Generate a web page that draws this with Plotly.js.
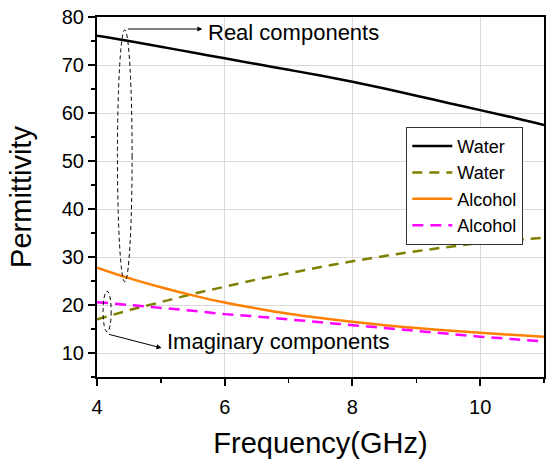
<!DOCTYPE html>
<html>
<head>
<meta charset="utf-8">
<script src="https://cdn.plot.ly/plotly-3.0.1.min.js"></script>
<style>
  html, body { margin: 0; padding: 0; background: #fff; }
  #chart { width: 549px; height: 459px; }
</style>
</head>
<body>
<div id="chart"></div>
<script>
// Frequency sweep (GHz)
const frequency = [4, 4.5, 5, 5.5, 6, 6.5, 7, 7.5, 8, 8.5, 9, 9.5, 10, 10.5, 11];

// Water permittivity: real and imaginary parts
const waterReal = [76.1, 75.0, 73.8, 72.6, 71.4, 70.2, 69.0, 67.8, 66.5, 65.1, 63.6, 62.1, 60.6, 59.1, 57.5];
const waterImag = [17.0, 18.9, 20.6, 22.3, 23.8, 25.3, 26.6, 27.9, 29.1, 30.2, 31.2, 32.1, 32.9, 33.5, 34.0];

// Alcohol permittivity: real and imaginary parts
const alcoholReal = [27.8, 25.6, 23.7, 22.0, 20.5, 19.3, 18.2, 17.3, 16.5, 15.8, 15.2, 14.7, 14.2, 13.8, 13.4];
const alcoholImag = [20.6, 20.0, 19.4, 18.8, 18.1, 17.6, 17.0, 16.4, 15.8, 15.2, 14.6, 14.0, 13.4, 12.9, 12.4];

const seriesNames = ["Water", "Water", "Alcohol", "Alcohol"];
const xTitle = "Frequency(GHz)";
const yTitle = "Permittivity";
const realLabel = "Real components";
const imagLabel = "Imaginary components";

const FONT = "Arial, 'Liberation Sans', sans-serif";

const traces = [
  { x: frequency, y: waterReal, name: seriesNames[0], mode: "lines",
    line: { color: "#000000", width: 2.5, shape: "spline" } },
  { x: frequency, y: waterImag, name: seriesNames[1], mode: "lines",
    line: { color: "#808000", width: 2.5, dash: "10px,7px", shape: "spline" } },
  { x: frequency, y: alcoholReal, name: seriesNames[2], mode: "lines",
    line: { color: "#ff8000", width: 2.5, shape: "spline" } },
  { x: frequency, y: alcoholImag, name: seriesNames[3], mode: "lines",
    line: { color: "#ff00ff", width: 2.5, dash: "11px,7px", shape: "spline" } }
];

const axisCommon = {
  showline: true, linecolor: "#000", linewidth: 2, mirror: true,
  ticks: "outside", ticklen: 7, tickwidth: 2, tickcolor: "#000",
  showgrid: true, gridcolor: "#d9d9d9", gridwidth: 1,
  zeroline: false,
  tickfont: { family: FONT, size: 20, color: "#000" }
};

const layout = {
  width: 549, height: 459,
  margin: { l: 97, r: 5, t: 17, b: 82 },
  paper_bgcolor: "#fff", plot_bgcolor: "#fff",
  font: { family: FONT, color: "#000" },
  showlegend: true,
  xaxis: Object.assign({}, axisCommon, {
    range: [4, 11], tick0: 4, dtick: 2, ticklabelstandoff: 4,
    minor: { ticks: "outside", ticklen: 4, tickwidth: 1.5, tickcolor: "#000", dtick: 1, tick0: 4, showgrid: false },
    title: { text: xTitle, font: { family: FONT, size: 29 }, standoff: 20 }
  }),
  yaxis: Object.assign({}, axisCommon, {
    range: [5, 80], tick0: 0, dtick: 10,
    minor: { ticks: "outside", ticklen: 4, tickwidth: 1.5, tickcolor: "#000", dtick: 5, tick0: 5, showgrid: false },
    title: { text: yTitle, font: { family: FONT, size: 29 }, standoff: 22 }
  }),
  legend: {
    x: 0.692, y: 0.695, xanchor: "left", yanchor: "top",
    bgcolor: "#fff", bordercolor: "#333", borderwidth: 1,
    font: { family: FONT, size: 18, color: "#000" },
    itemwidth: 40, tracegroupgap: 0
  },
  shapes: [
    { type: "circle", xref: "x", yref: "y", x0: 4.32, x1: 4.55, y0: 24.8, y1: 77.3,
      line: { color: "#000", width: 1, dash: "4px,3px" } },
    { type: "circle", xref: "x", yref: "y", x0: 4.095, x1: 4.222, y0: 14.4, y1: 22.9,
      line: { color: "#000", width: 1, dash: "4px,3px" } }
  ],
  annotations: [
    { x: 5.65, y: 77.5, xref: "x", yref: "y", text: "", showarrow: true,
      ax: -76, ay: 0, arrowhead: 2, arrowsize: 1, arrowwidth: 1, arrowcolor: "#000" },
    { x: 5.70, y: 76.7, xref: "x", yref: "y", text: realLabel, showarrow: false,
      xanchor: "left", yanchor: "middle", font: { family: FONT, size: 22, color: "#000" } },
    { x: 5.01, y: 11.05, xref: "x", yref: "y", text: "", showarrow: true,
      ax: -54, ay: -14, arrowhead: 2, arrowsize: 1, arrowwidth: 1, arrowcolor: "#000" },
    { x: 5.06, y: 12.3, xref: "x", yref: "y", text: imagLabel, showarrow: false,
      xanchor: "left", yanchor: "middle", font: { family: FONT, size: 22, color: "#000" } }
  ]
};

Plotly.newPlot("chart", traces, layout, { displayModeBar: false, staticPlot: true });
</script>
</body>
</html>
